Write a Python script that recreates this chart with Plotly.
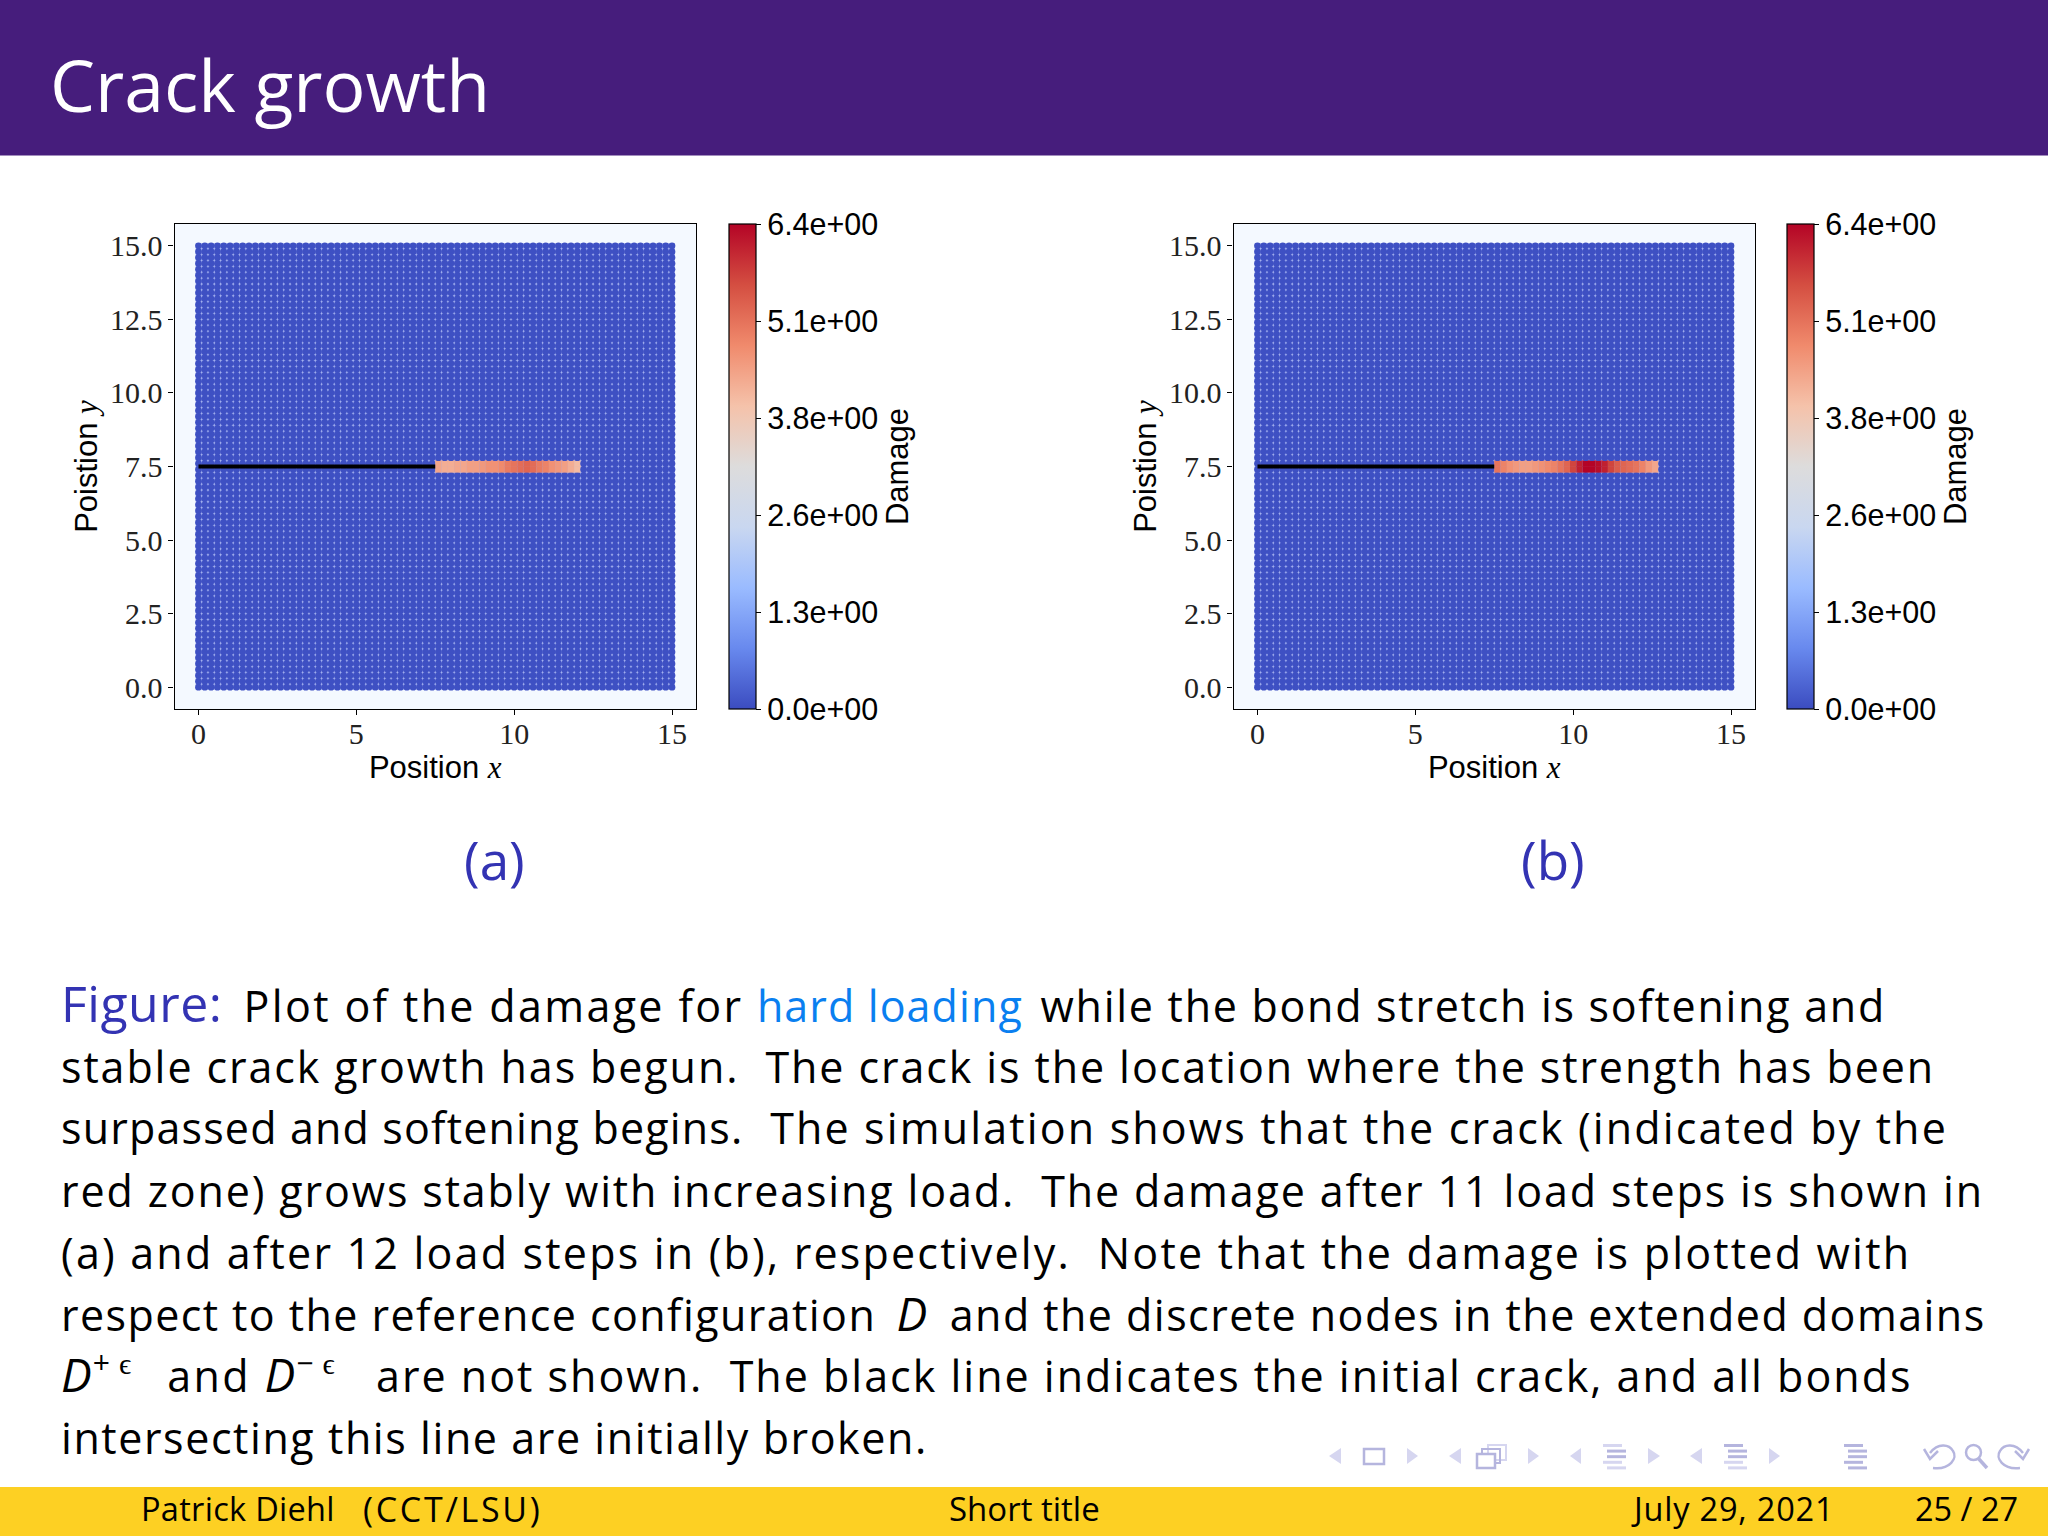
import plotly.graph_objects as go

W, H = 2048, 1536

NODE_COORD = [0.0,0.2,0.4,0.6,0.8,1.0,1.2,1.4,1.6,1.8,2.0,2.2,2.4,2.6,2.8,3.0,3.2,3.4,3.6,3.8,
              4.0,4.2,4.4,4.6,4.8,5.0,5.2,5.4,5.6,5.8,6.0,6.2,6.4,6.6,6.8,7.0,7.2,7.4,7.6,7.8,
              8.0,8.2,8.4,8.6,8.8,9.0,9.2,9.4,9.6,9.8,10.0,10.2,10.4,10.6,10.8,11.0,11.2,11.4,11.6,11.8,
              12.0,12.2,12.4,12.6,12.8,13.0,13.2,13.4,13.6,13.8,14.0,14.2,14.4,14.6,14.8,15.0]
BACKGROUND_DAMAGE = 0.05
CRACK_ROWS = [7.4, 7.6]
CRACK_X_A = [7.6,7.8,8.0,8.2,8.4,8.6,8.8,9.0,9.2,9.4,9.6,9.8,10.0,10.2,10.4,10.6,10.8,11.0,11.2,11.4,11.6,11.8,12.0]
CRACK_D_A = [4.4,4.3,4.3,4.4,4.4,4.5,4.5,4.6,4.7,4.7,4.8,5.0,5.1,5.2,5.3,5.2,5.0,4.9,4.7,4.6,4.5,4.3,4.1]
CRACK_X_B = [7.6,7.8,8.0,8.2,8.4,8.6,8.8,9.0,9.2,9.4,9.6,9.8,10.0,10.2,10.4,10.6,10.8,11.0,11.2,11.4,11.6,11.8,12.0,12.2,12.4,12.6]
CRACK_D_B = [5.1,4.9,4.7,4.6,4.5,4.5,4.6,4.7,4.8,4.9,5.1,5.3,5.7,6.1,6.4,6.4,6.3,6.1,5.7,5.4,5.3,5.2,5.1,4.9,4.6,4.4]
INITIAL_CRACK_X = [0.0, 7.5]
INITIAL_CRACK_Y = [7.5, 7.5]
X_TICKS = [0, 5, 10, 15]
Y_TICKS = [0.0, 2.5, 5.0, 7.5, 10.0, 12.5, 15.0]
CB_TICKS = [0, 1.28, 2.56, 3.84, 5.12, 6.4]
CB_LABELS = ["0.0e+00", "1.3e+00", "2.6e+00", "3.8e+00", "5.1e+00", "6.4e+00"]

COOLWARM = [[0, "#3b4cc0"], [.125, "#6889ee"], [.25, "#9abbff"], [.375, "#c9d7f0"], [.5, "#dddcdc"],
            [.625, "#f5c2aa"], [.75, "#f08a6c"], [.875, "#d44e41"], [1, "#b40426"]]

SANS = "Open Sans"
BLUE = "#3333b3"
LINK = "#0a7ff0"
SUP = 'letter-spacing:9px'
SERIF_I = "font-family:Liberation Serif"


def sp(s, ls, extra=""):
    return f'<span style="letter-spacing:{ls}px;{extra}">{s}</span>'


def big_d(ls):
    return f'<i><span style="font-size:46px;letter-spacing:{ls}px">D</span></i>'


BODY_LINES = [
    f'<span style="color:{BLUE};font-size:50px;letter-spacing:0.5px">Figure:</span>'
    + sp(" ", 10) + sp("Plot of the damage for ", 2.35)
    + f'<span style="color:{LINK};letter-spacing:1.1px">hard loading</span>'
    + sp(" ", 6.5) + sp("while the bond stretch is softening and", 1.72),
    sp("stable crack growth has begun.  The crack is the location where the strength has been", 1.9),
    sp("surpassed and softening begins.", 1.17)
    + sp("  The simulation shows that the crack (indicated by the", 2.15),
    sp("red zone) grows stably with increasing load.  The damage after 11 load steps is shown in", 1.87),
    sp("(a) and after 12 load steps in (b), respectively.  Note that the damage is plotted with", 2.2),
    sp("respect to the reference configuration", 1.42) + sp(" ", 9) + big_d(10)
    + sp(" and the discrete nodes in the extended domains", 1.45),
    big_d(1) + f'<sup style="{SUP}">+ϵ</sup>' + sp("  and ", 2.4) + big_d(1)
    + f'<sup style="{SUP}">−ϵ</sup>' + sp("  ", 5)
    + sp("are not shown.  The black line indicates the initial crack, and all bonds", 2.0),
    sp("intersecting this line are initially broken.", 1.57),
]
BODY_Y = [1003, 1066, 1127, 1190, 1252, 1313, 1373, 1437]
NODE_HALF_EXTENT = 0.09
NODE_GAP_COLOR = "#a2afee"


def px(x):
    return x / W


def py(y):
    return 1 - y / H


def panel_data(cx, cd):
    xs, ys, ds, symbols, sizes = [], [], [], [], []
    lookup = dict(zip(cx, cd))
    for y in NODE_COORD:
        for x in NODE_COORD:
            cracked = y in CRACK_ROWS and x in lookup
            xs.append(x)
            ys.append(y)
            ds.append(lookup[x] if cracked else BACKGROUND_DAMAGE)
            symbols.append("square" if cracked else "circle")
            sizes.append(6.4 if cracked else 6.7)
    return xs, ys, ds, symbols, sizes


shapes = []
fig = go.Figure()
panels = [
    ("x", "y", CRACK_X_A, CRACK_D_A, 174.5, 696, 729),
    ("x2", "y2", CRACK_X_B, CRACK_D_B, 1233.5, 1755, 1787),
]
TOP, BOTTOM = 224, 709
for xa, ya, cx, cd, left, right, cbx in panels:
    xs, ys, ds, symbols, sizes = panel_data(cx, cd)
    shapes.append(dict(type="rect", xref=xa, yref=ya, layer="below", fillcolor=NODE_GAP_COLOR, line_width=0,
                       x0=min(NODE_COORD) - NODE_HALF_EXTENT, x1=max(NODE_COORD) + NODE_HALF_EXTENT,
                       y0=min(NODE_COORD) - NODE_HALF_EXTENT, y1=max(NODE_COORD) + NODE_HALF_EXTENT))
    fig.add_trace(go.Scatter(
        x=xs, y=ys, mode="markers", xaxis=xa, yaxis=ya, showlegend=False, hoverinfo="skip",
        marker=dict(
            color=ds, symbol=symbols, size=sizes, opacity=1, cmin=0, cmax=6.4, colorscale=COOLWARM, line_width=0,
            colorbar=dict(
                x=px(cbx), xanchor="left", xpad=0, y=py((TOP + BOTTOM) / 2), yanchor="middle", ypad=0,
                len=(BOTTOM - TOP) / H, lenmode="fraction", thickness=27, thicknessmode="pixels",
                outlinecolor="black", outlinewidth=1.2, tickmode="array", tickvals=CB_TICKS,
                ticktext=CB_LABELS, ticks="outside", ticklen=5, tickcolor="black", tickwidth=1.2,
                tickfont=dict(family="Liberation Sans", size=30.5, color="black"),
                title=dict(text="Damage", side="right", font=dict(family="Liberation Sans", size=31, color="black")),
            ),
        ),
    ))
    fig.add_trace(go.Scatter(x=INITIAL_CRACK_X, y=INITIAL_CRACK_Y, mode="lines", xaxis=xa, yaxis=ya,
                             showlegend=False, hoverinfo="skip", line=dict(color="black", width=4)))
    axis_common = dict(range=[-0.76, 15.76], showgrid=False, zeroline=False, showline=True, mirror=True,
                       linecolor="black", linewidth=1.2, ticks="outside", ticklen=5, tickcolor="black",
                       tickwidth=1.2, tickfont=dict(family="Liberation Serif", size=30, color="#222"))
    fig.layout[xa.replace("x", "xaxis")] = dict(
        axis_common, domain=[px(left), px(right)], anchor=ya, tickvals=X_TICKS, ticktext=[str(v) for v in X_TICKS],
        ticklabelstandoff=-7,
        title=dict(text=f'Position <i><span style="{SERIF_I}">x</span></i>', standoff=4,
                   font=dict(family="Liberation Sans", size=31, color="black")))
    fig.layout[ya.replace("y", "yaxis")] = dict(
        axis_common, range=[-0.74, 15.74], domain=[py(BOTTOM), py(TOP)], anchor=xa, tickvals=Y_TICKS,
        ticktext=[f"{v:.1f}" for v in Y_TICKS],
        title=dict(text=f'Poistion <i><span style="{SERIF_I}">y</span></i>', standoff=3,
                   font=dict(family="Liberation Sans", size=31, color="black")))


def rect(x0, y0, x1, y1, fill=None, stroke=None, sw=2):
    shapes.append(dict(type="rect", xref="paper", yref="paper", x0=px(x0), x1=px(x1), y0=py(y0), y1=py(y1),
                       fillcolor=fill or "rgba(0,0,0,0)", line=dict(color=stroke or "rgba(0,0,0,0)", width=sw if stroke else 0),
                       layer="below"))


def path(points, fill=None, stroke=None, sw=2, close=True):
    d = "M" + " L".join(f"{px(x):.5f},{py(y):.5f}" for x, y in points) + (" Z" if close else "")
    shapes.append(dict(type="path", xref="paper", yref="paper", path=d, fillcolor=fill or "rgba(0,0,0,0)",
                       line=dict(color=stroke or "rgba(0,0,0,0)", width=sw if stroke else 0), layer="below"))


def curve(start, segments, stroke, sw):
    p = lambda q: f"{px(q[0]):.5f},{py(q[1]):.5f}"
    d = "M" + p(start) + "".join(" C" + " ".join(p(q) for q in seg) for seg in segments)
    shapes.append(dict(type="path", xref="paper", yref="paper", path=d, fillcolor="rgba(0,0,0,0)",
                       line=dict(color=stroke, width=sw), layer="below"))


rect(0, 0, W, 155.5, fill="#461d7c")
rect(0, 1487, W, H, fill="#fdd023")

FADED = "#d6d6f0"
ICON = "#b5b5de"
for x0, x1 in [(1329, 1341), (1449, 1461), (1570, 1581), (1690, 1702)]:
    path([(x1, 1448), (x0, 1456), (x1, 1464)], fill=FADED)
for x0, x1 in [(1407, 1418), (1528, 1539), (1648, 1660), (1769, 1780)]:
    path([(x0, 1448), (x1, 1456), (x0, 1464)], fill=FADED)
rect(1364, 1449, 1384, 1464, stroke=ICON, sw=2.5)
rect(1488, 1445, 1506, 1460, stroke=FADED, sw=2)
rect(1482, 1449, 1500, 1463, stroke=ICON, sw=2)
rect(1477, 1454, 1495, 1468, fill="white", stroke=ICON, sw=2.5)
for x0, pattern in [(1603, [FADED, ICON, ICON, FADED, FADED]), (1724, [ICON, ICON, ICON, FADED, FADED]),
                    (1844, [ICON, ICON, ICON, ICON, ICON])]:
    for i, c in enumerate(pattern):
        inset = [0, 4, 4, 0, 4][i]
        y = 1444 + i * 5.6
        rect(x0 + inset, y, x0 + 23 - (4 - inset), y + 3, fill=c)
curve((1933, 1468), [[(1950, 1470), (1958, 1458), (1953, 1451)], [(1949, 1444), (1938, 1443), (1930, 1453)]], ICON, 2.5)
path([(1924, 1449), (1930, 1459), (1938, 1451)], stroke=ICON, sw=2.5, close=False)
curve((2020, 1468), [[(2003, 1470), (1995, 1458), (2000, 1451)], [(2004, 1444), (2015, 1443), (2023, 1453)]], ICON, 2.5)
path([(2029, 1449), (2023, 1459), (2015, 1451)], stroke=ICON, sw=2.5, close=False)
shapes.append(dict(type="circle", xref="paper", yref="paper", x0=px(1966), x1=px(1981), y0=py(1445), y1=py(1460),
                   line=dict(color=ICON, width=2.5), layer="below"))
path([(1978, 1458), (1987, 1468)], stroke=ICON, sw=3.5, close=False)

annotations = []


def text(s, x, y, size, color="black", anchor="left", family=SANS):
    annotations.append(dict(text=s, x=px(x), y=py(y), xref="paper", yref="paper", xanchor=anchor, yanchor="middle",
                            showarrow=False, align=anchor, font=dict(family=family, size=size, color=color)))


text("Crack growth", 48, 85, 71.5, color="white")
text("(a)", 494, 859, 53, color=BLUE, anchor="center")
text("(b)", 1553, 859, 53, color=BLUE, anchor="center")
for line, y in zip(BODY_LINES, BODY_Y):
    text(line, 59, y, 43)
text(sp("Patrick Diehl", 0.3), 139, 1508.5, 32.5)
text(sp("(CCT/LSU)", 2.7), 361, 1508.5, 34)
text("Short title", 1024, 1508.5, 33, anchor="center")
text(sp("July 29, 2021", 0.8), 1628.5, 1508.5, 32.5)
text("25 / 27", 1913, 1508.5, 32.5)

fig.update_layout(width=W, height=H, autosize=False, margin=dict(l=0, r=0, t=0, b=0),
                  paper_bgcolor="white", plot_bgcolor="#f4f9ff", shapes=shapes, annotations=annotations)
fig.write_html("out.html", post_script="document.body.style.margin='0';", config={"displayModeBar": False})
